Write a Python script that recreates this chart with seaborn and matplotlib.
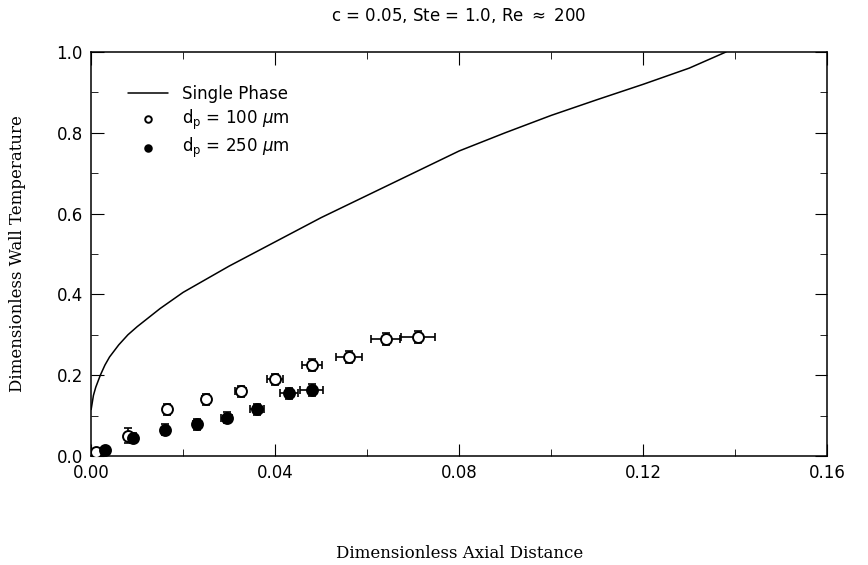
import numpy as np
import pandas as pd
import matplotlib
matplotlib.use("Agg")
import matplotlib.pyplot as plt
from matplotlib.ticker import MultipleLocator
import seaborn as sns

# single phase curve
sp_x = [0.0, 0.0005, 0.001, 0.002, 0.003, 0.004, 0.006, 0.008, 0.010, 0.015, 0.020,
        0.030, 0.040, 0.050, 0.060, 0.070, 0.080, 0.090, 0.100, 0.110, 0.120,
        0.130, 0.138]
sp_y = [0.115, 0.15, 0.17, 0.20, 0.225, 0.245, 0.275, 0.30, 0.32, 0.365, 0.405,
        0.47, 0.53, 0.59, 0.645, 0.70, 0.755, 0.80, 0.843, 0.882, 0.92,
        0.96, 1.0]

# d_p = 100 um (open)
d100_x = [0.001, 0.008, 0.0165, 0.025, 0.0325, 0.040, 0.048, 0.056, 0.064, 0.071]
d100_y = [0.01, 0.05, 0.115, 0.14, 0.16, 0.19, 0.225, 0.245, 0.29, 0.295]
d100_xerr = [0.0, 0.0005, 0.0005, 0.0008, 0.0012, 0.0018, 0.0022, 0.0028, 0.0032, 0.0037]
d100_yerr = [0.0, 0.018, 0.014, 0.014, 0.014, 0.014, 0.015, 0.015, 0.015, 0.015]

# d_p = 250 um (filled)
d250_x = [0.003, 0.009, 0.016, 0.023, 0.0295, 0.036, 0.043, 0.048]
d250_y = [0.015, 0.045, 0.065, 0.078, 0.095, 0.115, 0.155, 0.163]
d250_xerr = [0.0, 0.0005, 0.0006, 0.0008, 0.0012, 0.0015, 0.002, 0.0025]
d250_yerr = [0.0, 0.012, 0.014, 0.013, 0.014, 0.013, 0.014, 0.014]

sns.set_style("ticks")
plt.rcParams["font.family"] = ["DejaVu Sans"]
plt.rcParams["text.color"] = "black"
plt.rcParams["axes.labelcolor"] = "black"
plt.rcParams["xtick.color"] = "black"
plt.rcParams["ytick.color"] = "black"

fig = plt.figure(figsize=(8.68, 5.65), dpi=100)
ax = fig.add_axes([0.105, 0.193, 0.848, 0.715])

sns.lineplot(x=sp_x, y=sp_y, color="black", lw=1.1, ax=ax, label="Single Phase")

ax.errorbar(d100_x, d100_y, xerr=d100_xerr, yerr=d100_yerr, fmt="none",
            ecolor="black", elinewidth=1.2, capsize=3, capthick=1.2)
ax.errorbar(d250_x, d250_y, xerr=d250_xerr, yerr=d250_yerr, fmt="none",
            ecolor="black", elinewidth=1.2, capsize=3, capthick=1.2)

sns.scatterplot(x=d100_x, y=d100_y, marker="o", s=62, facecolor="white",
                edgecolor="black", linewidth=1.4, ax=ax, zorder=3,
                label=r"d$_\mathrm{p}$ = 100 $\mu$m")
sns.scatterplot(x=d250_x, y=d250_y, marker="o", s=62, color="black",
                edgecolor="black", linewidth=1.4, ax=ax, zorder=3,
                label=r"d$_\mathrm{p}$ = 250 $\mu$m")

ax.set_xlim(0, 0.16)
ax.set_ylim(0, 1.0)
ax.xaxis.set_major_locator(MultipleLocator(0.04))
ax.xaxis.set_minor_locator(MultipleLocator(0.02))
ax.yaxis.set_major_locator(MultipleLocator(0.2))
ax.yaxis.set_minor_locator(MultipleLocator(0.1))
ax.set_xticklabels([f"{v:.2f}" for v in ax.get_xticks()])
ax.set_yticklabels([f"{v:.1f}" for v in ax.get_yticks()])
ax.tick_params(which="both", direction="in", top=True, right=True, labelsize=12, pad=6)
ax.tick_params(which="major", length=9)
ax.tick_params(which="minor", length=5)
for s in ax.spines.values():
    s.set_linewidth(1.1)
    s.set_color("black")

ax.set_xlabel("Dimensionless Axial Distance", family="DejaVu Serif", fontsize=12, labelpad=45)
ax.set_ylabel("Dimensionless Wall Temperature", family="DejaVu Serif", fontsize=12, labelpad=22)
ax.set_title(r"c = 0.05, Ste = 1.0, Re $\approx$ 200", fontsize=12, pad=22)

ax.legend(loc="upper left", frameon=False, fontsize=12, handlelength=2.4,
          bbox_to_anchor=(0.03, 0.955), labelspacing=0.25, markerscale=0.6)

fig.savefig("out.png", dpi=100)
